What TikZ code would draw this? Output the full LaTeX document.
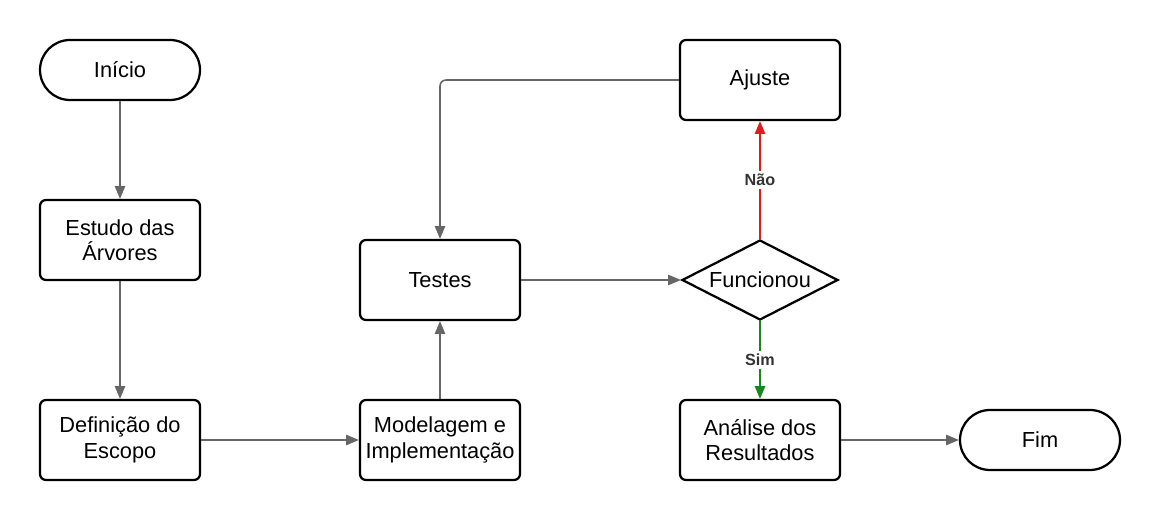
\documentclass[tikz,border=0pt]{standalone}
\usepackage{fontspec}
\setmainfont{Liberation Sans}
\usepackage{xcolor}
\usetikzlibrary{arrows.meta, positioning, shapes.geometric}

\definecolor{linegray}{HTML}{666666}
\definecolor{labelgray}{HTML}{333333}
\definecolor{naored}{HTML}{E01B1B}
\definecolor{simgreen}{HTML}{138A1E}

\begin{document}
\begin{tikzpicture}[
        font=\fontsize{15.5}{18}\selectfont,
        >={Triangle[length=0.32cm,width=0.26cm]},
        etapa/.style={rectangle, draw, line width=1.6pt, rounded corners=0.15cm,
            minimum width=4cm, minimum height=2cm, align=center},
        terminal/.style={rectangle, draw, line width=1.6pt, rounded corners=0.75cm,
            minimum width=4cm, minimum height=1.5cm},
        decisao/.style={diamond, draw, line width=1.6pt, inner sep=0pt, aspect=1.95,
            minimum width=3.9cm, minimum height=2cm},
        fluxo/.style={->, draw=linegray, line width=1.1pt},
        rotulo/.style={fill=white, text=labelgray, font=\fontsize{11.5}{13}\selectfont\bfseries, inner sep=2pt}
    ]
    \useasboundingbox (0,0) rectangle (29,-13);

    \node[terminal] (inicio) at (3,-1.75) {Início};
    \node[etapa] (estudo) at (3,-6) {Estudo das\\Árvores};
    \node[etapa] (escopo) at (3,-11) {Definição do\\Escopo};
    \node[etapa] (modelagem) at (11,-11) {Modelagem e\\Implementação};
    \node[etapa] (testes) at (11,-7) {Testes};
    \node[decisao] (funcionou) at (19,-7) {Funcionou};
    \node[etapa] (ajuste) at (19,-2) {Ajuste};
    \node[etapa] (analise) at (19,-11) {Análise dos\\Resultados};
    \node[terminal] (fim) at (26,-11) {Fim};

    \draw[fluxo] (inicio) -- (estudo);
    \draw[fluxo] (estudo) -- (escopo);
    \draw[fluxo] (escopo) -- (modelagem);
    \draw[fluxo] (modelagem) -- (testes);
    \draw[fluxo] (testes) -- (funcionou);
    \draw[fluxo, draw=naored] (funcionou) -- node[rotulo] {Não} (ajuste);
    \draw[fluxo, draw=simgreen] (funcionou) -- node[rotulo] {Sim} (analise);
    \draw[fluxo, rounded corners=0.15cm] (ajuste.west) -| (testes.north);
    \draw[fluxo] (analise) -- (fim);
\end{tikzpicture}
\end{document}
